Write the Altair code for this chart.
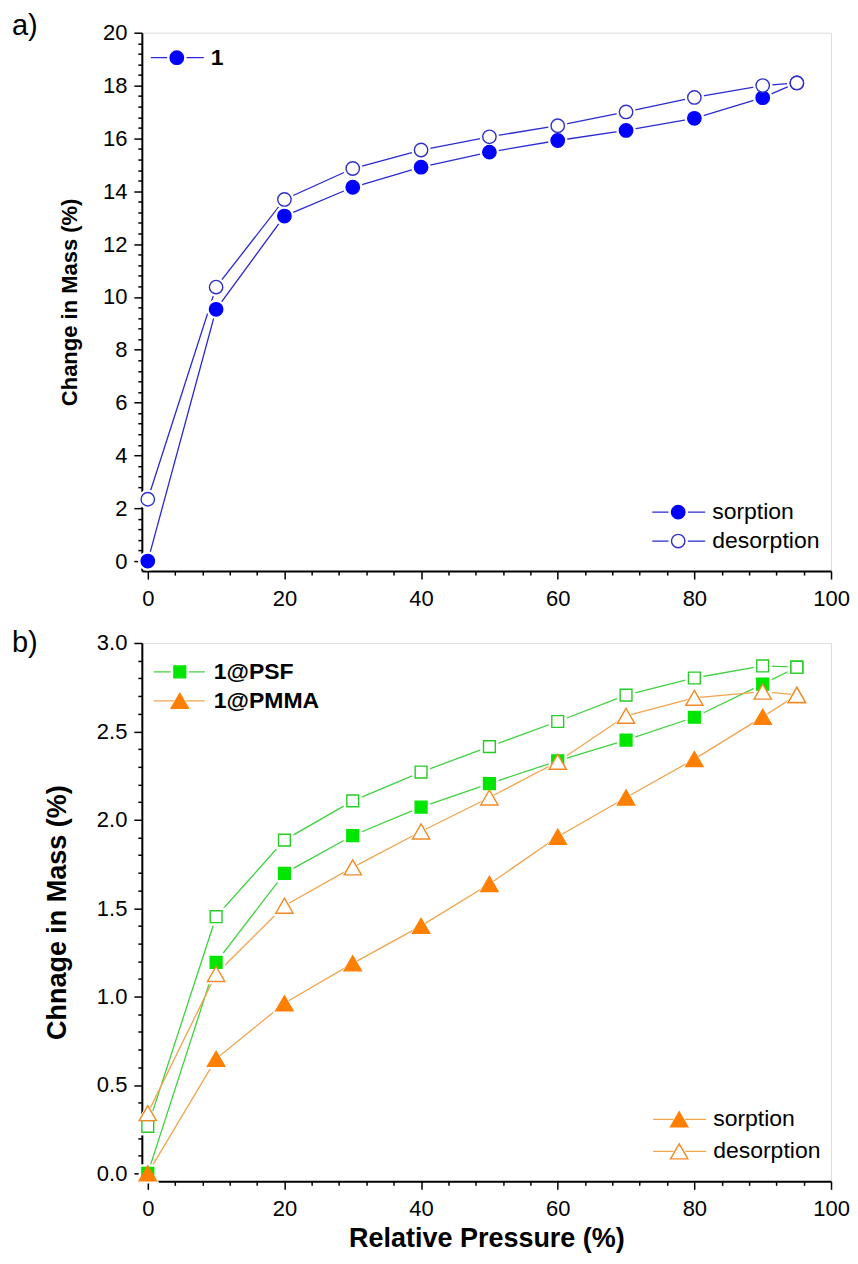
import altair as alt
import pandas as pd

# ---------------- data ----------------
RH = [0, 10, 20, 30, 40, 50, 60, 70, 80, 90, 95]

A_SORPTION = [0.0, 9.53, 13.06, 14.15, 14.91, 15.48, 15.92, 16.30, 16.76, 17.54, 18.10]
A_DESORPTION = [2.34, 10.37, 13.69, 14.86, 15.56, 16.06, 16.48, 17.00, 17.55, 18.00, 18.10]

PSF_SORPTION = [0.0, 1.194, 1.697, 1.911, 2.072, 2.205, 2.333, 2.450, 2.580, 2.767, 2.863]
PSF_DESORPTION = [0.266, 1.452, 1.885, 2.107, 2.270, 2.414, 2.556, 2.705, 2.802, 2.870, 2.863]
PMMA_SORPTION = [0.0, 0.648, 0.962, 1.188, 1.400, 1.637, 1.904, 2.126, 2.343, 2.582, 2.706]
PMMA_DESORPTION = [0.341, 1.128, 1.514, 1.731, 1.934, 2.126, 2.328, 2.588, 2.690, 2.725, 2.706]

X_TICKS = list(range(0, 101, 4))
YA_TICKS = [round(k * 0.4, 1) for k in range(0, 51)]
YB_TICKS = [round(k * 0.1, 1) for k in range(0, 31)]

FONT = "Liberation Sans"
W, H = 690, 539
TICK_FS = 22

BLUE, BLUE_LINE, BLUE_OPEN = "#0000ff", "#2a2ad0", "#3030c8"
GREEN, GREEN_LINE, GREEN_OPEN = "#00e600", "#3fd23f", "#26cc26"
ORANGE, ORANGE_LINE, ORANGE_OPEN = "#ff7f00", "#f0a44e", "#f08a26"


def x_enc(title):
    test = "abs(datum.value/20 - round(datum.value/20)) < 0.000001"
    kw = dict(
        values=X_TICKS, tickCount=500,
        labelExpr=f"{test} ? format(datum.value, 'd') : ''",
        tickSize={"condition": {"test": test, "value": 8}, "value": 4},
        labelFontSize=TICK_FS, labelPadding=9, labelFlush=False, labelOverlap=False,
        grid=False, tickColor="black", tickWidth=1.5, domainColor="black", domainWidth=2,
        labelColor="black", labelFont=FONT,
    )
    if title is None:
        ax = alt.Axis(title=None, **kw)
    else:
        ax = alt.Axis(title=title, titleFont=FONT, titleFontSize=27, titleFontWeight="bold",
                      titleColor="black", titlePadding=6, **kw)
    return alt.X("x:Q", scale=alt.Scale(domain=[-0.87, 100], nice=False, zero=False), axis=ax)


def y_enc(domain, ticks, step, fmt, title, tsize, tpad):
    test = f"abs(datum.value/{step} - round(datum.value/{step})) < 0.000001"
    ax = alt.Axis(
        values=ticks, tickCount=500,
        labelExpr=f"{test} ? format(datum.value, '{fmt}') : ''",
        tickSize={"condition": {"test": test, "value": 8}, "value": 4},
        labelFontSize=TICK_FS, labelPadding=7, labelOverlap=False, labelFlush=False,
        grid=False, tickColor="black", tickWidth=1.5, domainColor="black", domainWidth=2,
        labelColor="black", labelFont=FONT,
        title=title, titleFont=FONT, titleFontSize=tsize, titleFontWeight="bold",
        titleColor="black", titlePadding=tpad,
    )
    return alt.Y("y:Q", scale=alt.Scale(domain=domain, nice=False, zero=False), axis=ax)


def panel(series, xe, ye):
    """series: list of (xs, ys, shape, size, halo, fill, stroke, line_color)"""
    lines, halos, marks = [], [], []
    for xs, ys, shape, size, halo, fill, stroke, lc in series:
        df = pd.DataFrame({"x": xs, "y": ys})
        base = alt.Chart(df).encode(x=xe, y=ye)
        lines.append(base.mark_line(color=lc, strokeWidth=1.3))
        halos.append(base.mark_point(shape=shape, size=halo, filled=True, color="white", opacity=1))
        marks.append(base.mark_point(shape=shape, size=size, filled=True, fill=fill,
                                     stroke=stroke, strokeWidth=1.4, opacity=1))
    return lines + halos + marks


def legend_row(x0, x1, xm, y, xt, label, shape, size, halo, fill, stroke, lc, fs, bold):
    d = pd.DataFrame({"k": [0]})
    c = alt.Chart(d)
    rule = c.mark_rule(color=lc, strokeWidth=1.3).encode(
        x=alt.value(x0), x2=alt.value(x1), y=alt.value(y))
    h = c.mark_point(shape=shape, size=halo, filled=True, color="white", opacity=1).encode(
        x=alt.value(xm), y=alt.value(y))
    m = c.mark_point(shape=shape, size=size, filled=True, fill=fill, stroke=stroke,
                     strokeWidth=1.4, opacity=1).encode(x=alt.value(xm), y=alt.value(y))
    t = c.mark_text(text=label, align="left", baseline="middle", fontSize=fs, font=FONT,
                    fontWeight="bold" if bold else "normal", color="black").encode(
        x=alt.value(xt), y=alt.value(y))
    return [rule, h, m, t]


def panel_label(txt, y):
    d = pd.DataFrame({"k": [0]})
    return alt.Chart(d).mark_text(text=txt, align="left", baseline="top", fontSize=29,
                                  font=FONT, color="black").encode(
        x=alt.value(-130), y=alt.value(y))


# ---------------- panel a ----------------
xa = x_enc(None)
ya = y_enc([-0.378, 20], YA_TICKS, 2, "d", "Change in Mass (%)", 22, 21)
CIRC, CIRC_HALO = 180, 380
a_layers = panel([
    (RH, A_SORPTION, "circle", CIRC, CIRC_HALO, BLUE, BLUE, BLUE_LINE),
    (RH, A_DESORPTION, "circle", CIRC, CIRC_HALO, "white", BLUE_OPEN, BLUE_LINE),
], xa, ya)
a_layers += legend_row(9, 62, 35, 25, 69, "1", "circle", CIRC, CIRC_HALO, BLUE, BLUE, BLUE_LINE, 23, True)
a_layers += legend_row(511, 564, 537, 480, 571, "sorption", "circle", CIRC, CIRC_HALO, BLUE, BLUE, BLUE_LINE, 23, False)
a_layers += legend_row(511, 564, 537, 509, 571, "desorption", "circle", CIRC, CIRC_HALO, "white", BLUE_OPEN, BLUE_LINE, 23, False)
a_layers.append(panel_label("a)", -20.5))
chart_a = alt.layer(*a_layers).properties(width=W, height=H)

# ---------------- panel b ----------------
xb = x_enc("Relative Pressure (%)")
yb = y_enc([-0.045, 3.0], YB_TICKS, 0.5, ".1f", "Chnage in Mass (%)", 27, 25)
SQ, SQ_HALO = 140, 330
TRI, TRI_HALO = 300, 560
b_layers = panel([
    (RH, PSF_SORPTION, "square", SQ, SQ_HALO, GREEN, GREEN, GREEN_LINE),
    (RH, PSF_DESORPTION, "square", SQ, SQ_HALO, "white", GREEN_OPEN, GREEN_LINE),
    (RH, PMMA_SORPTION, "triangle-up", TRI, TRI_HALO, ORANGE, ORANGE, ORANGE_LINE),
    (RH, PMMA_DESORPTION, "triangle-up", TRI, TRI_HALO, "white", ORANGE_OPEN, ORANGE_LINE),
], xb, yb)
b_layers += legend_row(12, 63, 38, 29, 72, "1@PSF", "square", SQ, SQ_HALO, GREEN, GREEN, GREEN_LINE, 23, True)
b_layers += legend_row(12, 63, 38, 58, 72, "1@PMMA", "triangle-up", TRI, TRI_HALO, ORANGE, ORANGE, ORANGE_LINE, 23, True)
b_layers += legend_row(512, 565, 538, 477, 572, "sorption", "triangle-up", TRI, TRI_HALO, ORANGE, ORANGE, ORANGE_LINE, 23, False)
b_layers += legend_row(512, 565, 538, 509, 572, "desorption", "triangle-up", TRI, TRI_HALO, "white", ORANGE_OPEN, ORANGE_LINE, 23, False)
b_layers.append(panel_label("b)", -13.7))
chart_b = alt.layer(*b_layers).properties(width=W, height=H)

chart = alt.vconcat(chart_a, chart_b, spacing=18).properties(
    padding={"left": 3, "top": 3, "right": 0, "bottom": 0}
).configure_view(stroke="black", strokeWidth=2).configure(background="white")

chart.save("out.html", embed_options={"renderer": "svg", "actions": False})
